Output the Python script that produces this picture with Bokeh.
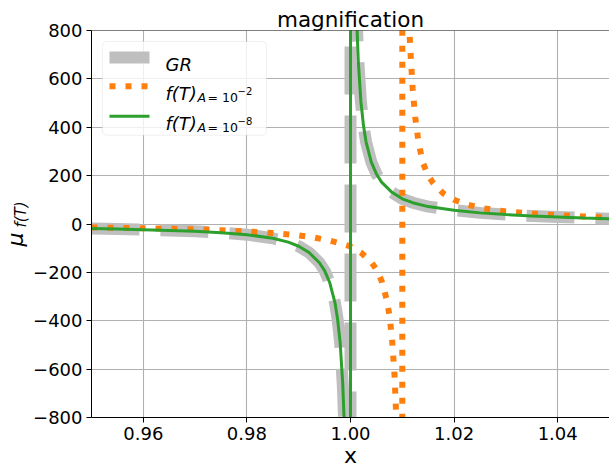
from bokeh.plotting import figure
from bokeh.models import (Range1d, FixedTicker, Label, BoxAnnotation, Span,
                          Title)
from bokeh.embed import file_html
from bokeh.resources import INLINE

# ---------------- data ----------------
# GR and f(T) with A = 1e-8 (they coincide): asymptote at x = 1
x_gr = [0.950, 0.955, 0.960, 0.965, 0.970, 0.975, 0.980, 0.985, 0.988, 0.990,
        0.992, 0.994, 0.995, 0.996, 0.997, 0.9975, 0.998, 0.9985, 0.9988, 0.999,
        0.9995, 0.99995,
        1.00005, 1.0005, 1.001, 1.0012, 1.0015, 1.002, 1.0025, 1.003, 1.004,
        1.005, 1.006, 1.008, 1.010, 1.012, 1.015, 1.020, 1.025, 1.030, 1.035,
        1.040, 1.045, 1.050]
mu_gr = [-19, -21, -23.5, -26.5, -30, -36, -44, -59, -75, -92,
         -118, -160, -193, -243, -325, -392, -490, -660, -825, -990,
         -2000, -20000,
         20000, 2000, 1010, 840, 675, 508, 408, 340, 257,
         207, 173, 131, 104, 88, 72, 57, 46, 39, 33,
         29, 25, 22]
mu_a8 = [-19, -21, -23.5, -26.5, -30, -36, -44, -59, -75, -92,
         -118, -160, -193, -243, -325, -392, -490, -660, -825, -990,
         -2000, -20000,
         20000, 2000, 1010, 840, 675, 508, 408, 340, 257,
         207, 173, 131, 104, 88, 72, 57, 46, 39, 33,
         29, 25, 22]

# f(T) with A = 1e-2: asymptote near x = 1.01
x_a2 = [0.950, 0.955, 0.960, 0.965, 0.970, 0.975, 0.980, 0.985, 0.990, 0.993,
        0.996, 0.998, 1.000, 1.002, 1.004, 1.005, 1.006, 1.007, 1.0075, 1.008,
        1.0085, 1.0088, 1.009, 1.0095, 1.00995,
        1.01005, 1.0105, 1.011, 1.0115, 1.012, 1.0125, 1.013, 1.0135, 1.014,
        1.015, 1.016, 1.018, 1.020, 1.022, 1.025, 1.030, 1.035, 1.040, 1.045,
        1.050]
mu_a2 = [-14.5, -16, -17.5, -19.5, -22, -26, -31, -37.5, -47, -56,
         -69, -80, -93, -118, -157, -188, -235, -313, -375, -470,
         -625, -780, -940, -1880, -19000,
         19000, 2000, 1000, 740, 560, 440, 360, 300, 252,
         200, 168, 125, 100, 84, 67, 52, 43, 36, 31,
         27]

x_ticks = [0.96, 0.98, 1.00, 1.02, 1.04]
x_tick_labels = ["0.96", "0.98", "1.00", "1.02", "1.04"]
y_ticks = [-800, -600, -400, -200, 0, 200, 400, 600, 800]
y_tick_labels = ["\u2212800", "\u2212600", "\u2212400", "\u2212200", "0",
                 "200", "400", "600", "800"]

# ---------------- layout ----------------
W, H = 609, 470
F_LEFT, F_TOP, F_W, F_H = 91, 30, 518, 388
FONT = "DejaVu Sans"

p = figure(width=W, height=H, output_backend="svg", toolbar_location=None,
           x_range=Range1d(0.95, 1.05), y_range=Range1d(-800, 800),
           min_border_left=F_LEFT, min_border_right=0,
           min_border_top=F_TOP, min_border_bottom=H - F_TOP - F_H,
           title="magnification")
p.outline_line_color = None
p.background_fill_color = "white"
p.border_fill_color = "white"

# pixel ranges for the hand-drawn legend (values == image pixel coordinates)
p.extra_x_ranges = {"px": Range1d(F_LEFT, F_LEFT + F_W)}
p.extra_y_ranges = {"py": Range1d(F_TOP + F_H, F_TOP)}

p.title.text_font = FONT
p.title.text_font_size = "21.5px"
p.title.text_font_style = "normal"
p.title.text_color = "black"
p.title.align = "center"
p.title.standoff = -3

for ax in (p.xaxis[0], p.yaxis[0]):
    ax.axis_line_color = "black"
    ax.axis_line_width = 1
    ax.major_tick_line_color = "black"
    ax.major_tick_out = 5
    ax.major_tick_in = 0
    ax.minor_tick_line_color = None
    ax.major_label_text_font = FONT
    ax.major_label_text_font_size = "18px"
    ax.major_label_text_color = "black"
    ax.axis_label_text_font = FONT
    ax.axis_label_text_color = "black"

xa = p.xaxis[0]
xa.ticker = FixedTicker(ticks=x_ticks)
xa.major_label_overrides = dict(zip(x_ticks, x_tick_labels))
xa.major_label_standoff = 4
xa.axis_label = "x"
xa.axis_label_text_font_size = "22px"
xa.axis_label_text_font_style = "normal"
xa.axis_label_standoff = 0

ya = p.yaxis[0]
ya.ticker = FixedTicker(ticks=y_ticks)
ya.major_label_overrides = dict(zip(y_ticks, y_tick_labels))
ya.major_label_standoff = 4
# subscript part of the y label (mu is added as an outer title)
ya.axis_label = "\u00a0\u00a0\u00a0\u00a0f(T)"
ya.axis_label_text_font_size = "15px"
ya.axis_label_text_font_style = "italic"
ya.axis_label_standoff = 0

p.add_layout(Title(text="\u03bc", text_font=FONT, text_font_size="22px",
                   text_font_style="italic", text_color="black",
                   align="left", offset=171, vertical_align="bottom",
                   standoff=-37), "left")

p.xgrid[0].ticker = FixedTicker(ticks=x_ticks)
p.ygrid[0].ticker = FixedTicker(ticks=y_ticks)
for g in (p.xgrid[0], p.ygrid[0]):
    g.grid_line_color = "#b0b0b0"
    g.grid_line_width = 1.1

# top spine
p.add_layout(Span(location=800, dimension="width", line_color="black",
                  line_width=1))

GREY = "#bfbfbf"
ORANGE = "#ff7f0e"
GREEN = "#2ca02c"

p.line(x_gr, mu_gr, line_color=GREY, line_width=12, line_dash="48 21")
p.line(x_a2, mu_a2, line_color=ORANGE, line_width=6, line_dash="6 10")
p.line(x_gr, mu_a8, line_color=GREEN, line_width=3)

# ---------------- legend (drawn by hand) ----------------
p.add_layout(BoxAnnotation(left=102, right=266, top=41, bottom=135,
                           x_range_name="px", y_range_name="py",
                           fill_color="white", fill_alpha=0.8,
                           line_color="#cccccc", line_width=1,
                           border_radius=4))
p.line([109, 149], [57, 57], x_range_name="px", y_range_name="py",
       line_color=GREY, line_width=12, level="overlay")
p.line([109, 149], [86, 86], x_range_name="px", y_range_name="py",
       line_color=ORANGE, line_width=6, line_dash="6 10", level="overlay")
p.line([109, 149], [116, 116], x_range_name="px", y_range_name="py",
       line_color=GREEN, line_width=3, level="overlay")


def lab(text, x, y, size, style="normal"):
    p.add_layout(Label(x=x, y=y, text=text, x_range_name="px",
                       y_range_name="py", text_font=FONT,
                       text_font_size=f"{size}px", text_font_style=style,
                       text_color="black", text_align="left",
                       text_baseline="alphabetic"))


lab("GR", 165, 64, 18, "italic")
for yb, sup in ((93, "\u22122"), (123, "\u22128")):
    lab("f(T)", 165, yb, 18, "italic")
    lab("A", 197, yb + 4, 12.5, "italic")
    lab("= 10", 207, yb + 4, 12.5)
    lab(sup, 237, yb - 2, 10)

open("out.html", "w").write(file_html(p, INLINE))
